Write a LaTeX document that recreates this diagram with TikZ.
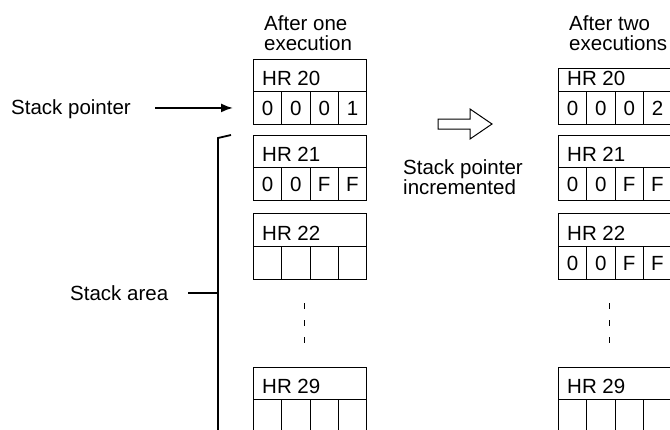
\documentclass[tikz,border=0pt]{standalone}
\usepackage{fontspec}
\setmainfont{Liberation Sans}
\usetikzlibrary{arrows.meta,calc}
\newcommand\RegBox[9]{%
  \node[hdr, minimum height={(#4-#3)*1pt}] (#1h) at (#2,#3) {};
  \node[lbl] (#1t) at ($(#1h.south west)+(9,-6)$) {#5};
  \node[cell] (#1a) at (#2,#4) {#6};
  \node[cell] (#1b) at ($(#2,#4)+(28.3,0)$) {#7};
  \node[cell] (#1c) at ($(#2,#4)+(56.6,0)$) {#8};
  \node[cell] (#1d) at ($(#2,#4)+(84.9,0)$) {#9};
}
\begin{document}
\begin{tikzpicture}[x=1pt,y=-1pt,
  font=\fontsize{20.5}{24}\selectfont,
  hdr/.style={draw, line width=0.9pt, minimum width=113.2pt, inner sep=0pt, anchor=north west},
  cell/.style={draw, line width=0.9pt, minimum width=28.3pt, minimum height=33pt, inner sep=0pt,
    anchor=north west, text height=15pt, text depth=0pt},
  lbl/.style={inner sep=0pt, anchor=base west},
  dots/.style={line width=1pt, dash pattern=on 5.5pt off 11.5pt},
  ptr/.style={line width=1.8pt, -{Latex[length=12pt,width=9pt]}},
  brk/.style={line width=1.8pt}]
\useasboundingbox (0,0) rectangle (670,429);
\clip (0,0) rectangle (670,429);
% headings
\node[lbl] (h1a) at (264,30) {After one};
\node[lbl] (h1b) at (264,50) {execution};
\node[lbl] (h2a) at (569,30) {After two};
\node[lbl] (h2b) at (569,50) {executions};
% left column
\RegBox{La}{253}{59}{91}{HR 20}{0}{0}{0}{1}
\RegBox{Lb}{253}{135}{167}{HR 21}{0}{0}{F}{F}
\RegBox{Lc}{253}{213}{246}{HR 22}{}{}{}{}
\RegBox{Ld}{253}{367}{399}{HR 29}{}{}{}{}
% right column
\RegBox{Ra}{558}{68}{91}{HR 20}{0}{0}{0}{2}
\RegBox{Rb}{558}{135}{167}{HR 21}{0}{0}{F}{F}
\RegBox{Rc}{558}{213}{246}{HR 22}{0}{0}{F}{F}
\RegBox{Rd}{558}{367}{399}{HR 29}{}{}{}{}
% continuation dots
\coordinate (ldt) at (304,303);
\coordinate (ldb) at (304,343);
\coordinate (rdt) at (609,303);
\coordinate (rdb) at (609,343);
\draw[dots] (ldt) -- (ldb);
\draw[dots] (rdt) -- (rdb);
% stack pointer
\node[lbl] (sp) at (11,114) {Stack pointer};
\coordinate (spe) at ([xshift=24pt]sp.east);
\draw[ptr] (spe |- Laa.west) -- ([xshift=-20pt]Laa.west);
% stack area bracket
\coordinate (bh) at (231,135);
\coordinate (bt) at (218,138);
\coordinate (bb) at (218,440);
\draw[brk] (bh) -- (bt) -- (bb);
\node[lbl] (sa) at (70,300) {Stack area};
\coordinate (sae) at ([xshift=20pt]sa.east);
\draw[brk] (sae) -- (sae -| bt);
% hollow arrow
\draw[line width=1pt, line join=miter]
  (438,119) -- (470,119) -- (470,109) -- (492,124) -- (470,139) -- (470,129) -- (438,129) -- cycle;
\node[lbl] (inc1) at (403,174) {Stack pointer};
\node[lbl] (inc2) at (403,194) {incremented};
\end{tikzpicture}
\end{document}
